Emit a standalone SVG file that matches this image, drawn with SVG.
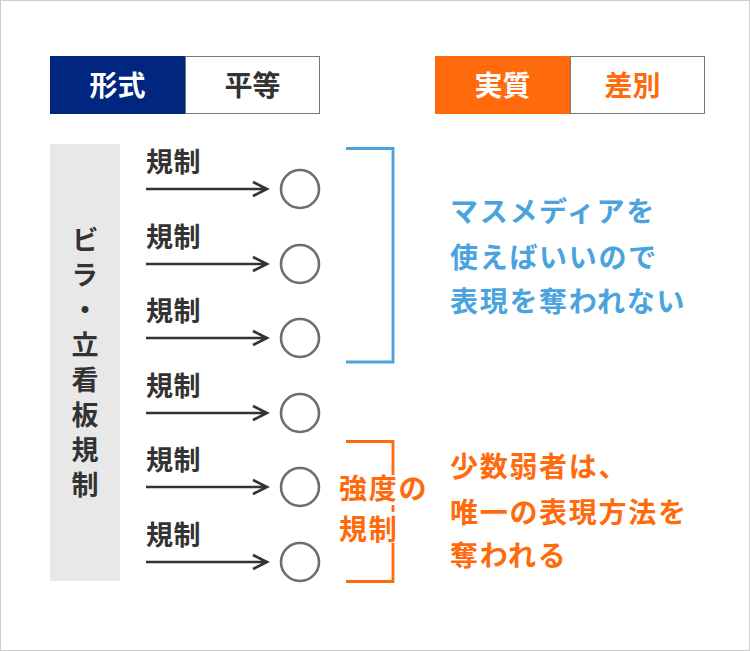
<svg xmlns="http://www.w3.org/2000/svg" width="750" height="651" viewBox="0 0 750 651">
<style>
text{font-family:"Noto Sans CJK JP","Noto Sans",sans-serif;font-weight:bold}
.hd{font-size:28px;text-anchor:middle}
.lb{font-size:27px;fill:#333;letter-spacing:0.5px}
.vt{font-size:27px;fill:#333;writing-mode:vertical-rl;letter-spacing:8px}
.bl{font-size:28px;fill:#4aa3df;letter-spacing:1.7px}
.or{font-size:28px;fill:#ff6a0d;letter-spacing:1.7px}
.arr{stroke:#333;stroke-width:2.6;fill:none}
.cir{stroke:#6e6e6e;stroke-width:2.6;fill:#fff}
</style>
<rect x="0.5" y="0.5" width="749" height="650" fill="#fff" stroke="#cccccc"/>
<g id="header-form">
<rect x="50" y="56" width="135" height="58" fill="#00267f"/>
<rect x="185.5" y="56.5" width="134" height="57" fill="#fff" stroke="#777"/>
<text class="hd" x="117.5" y="96" fill="#fff">形式</text>
<text class="hd" x="252.5" y="96" fill="#333">平等</text>
</g>
<g id="header-substance">
<rect x="435" y="56" width="135" height="58" fill="#ff6a0d"/>
<rect x="570.5" y="56.5" width="134" height="57" fill="#fff" stroke="#777"/>
<text class="hd" x="502.5" y="96" fill="#fff">実質</text>
<text class="hd" x="632.5" y="96" fill="#ff6a0d">差別</text>
</g>
<g id="column">
<rect x="50" y="144" width="70" height="437" fill="#e8e8e8"/>
<text class="vt" x="85" y="226">ビラ・立看板規制</text>
</g>
<g id="connectors">
<path class="arr" d="M146 189H266M253 182L267 189L253 196"/>
<path class="arr" d="M146 264H266M253 257L267 264L253 271"/>
<path class="arr" d="M146 338H266M253 331L267 338L253 345"/>
<path class="arr" d="M146 413H266M253 406L267 413L253 420"/>
<path class="arr" d="M146 487H266M253 480L267 487L253 494"/>
<path class="arr" d="M146 562H266M253 555L267 562L253 569"/>
</g>
<g id="labels">
<text class="lb" x="146" y="172">規制</text>
<text class="lb" x="146" y="247">規制</text>
<text class="lb" x="146" y="321">規制</text>
<text class="lb" x="146" y="396">規制</text>
<text class="lb" x="146" y="470">規制</text>
<text class="lb" x="146" y="545">規制</text>
</g>
<g id="circles">
<circle class="cir" cx="300" cy="189" r="19"/>
<circle class="cir" cx="300" cy="264" r="19"/>
<circle class="cir" cx="300" cy="338" r="19"/>
<circle class="cir" cx="300" cy="413" r="19"/>
<circle class="cir" cx="300" cy="487" r="19"/>
<circle class="cir" cx="300" cy="562" r="19"/>
</g>
<g id="blue-bracket">
<path d="M346 148.5H393V362H346" fill="none" stroke="#4aa3df" stroke-width="2.8"/>
<text class="bl" x="450" y="222">マスメディアを</text>
<text class="bl" x="450" y="268">使えばいいので</text>
<text class="bl" x="450" y="312">表現を奪われない</text>
</g>
<g id="orange-bracket">
<path d="M346 441.5H393V581.5H346" fill="none" stroke="#ff6a0d" stroke-width="2.8"/>
<rect x="338" y="475" width="92" height="30" fill="#fff"/>
<rect x="338" y="512" width="60" height="31" fill="#fff"/>
<text class="or" x="339" y="499">強度の</text>
<text class="or" x="339" y="540">規制</text>
<text class="or" x="450" y="477">少数弱者は、</text>
<text class="or" x="450" y="523">唯一の表現方法を</text>
<text class="or" x="450" y="566">奪われる</text>
</g>
</svg>
